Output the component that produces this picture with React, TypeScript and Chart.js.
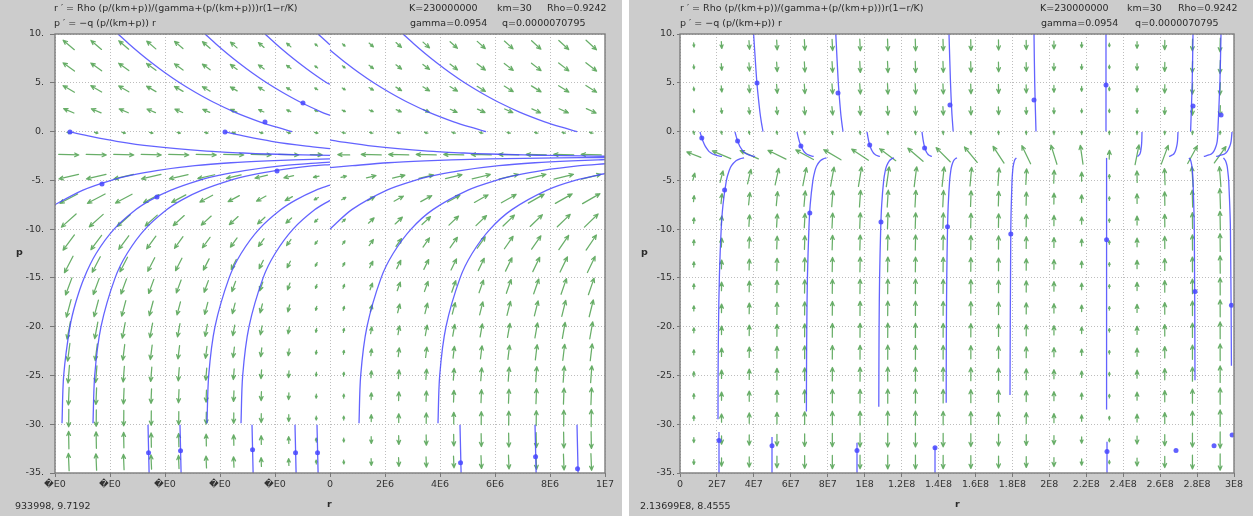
import React, { useEffect, useRef } from "react";
import { Chart, registerables } from "chart.js";

Chart.register(...registerables);

// ---- model parameters (as printed in the chart header) ----
const K = 230000000;
const KM = 30;
const RHO = 0.9242;
const GAMMA = 0.0954;
const Q = 0.0000070795;

// ---- axes ----
const yTicks = [10, 5, 0, -5, -10, -15, -20, -25, -30, -35];
const yTickLabels = ["10.", "5.", "0.", "-5.", "-10.", "-15.", "-20.", "-25.", "-30.", "-35."];

const leftXTicks = [-1e7, -8e6, -6e6, -4e6, -2e6, 0, 2e6, 4e6, 6e6, 8e6, 1e7];
const leftXTickLabels = ["\uFFFDE0", "\uFFFDE0", "\uFFFDE0", "\uFFFDE0", "\uFFFDE0", "0", "2E6", "4E6", "6E6", "8E6", "1E7"];

const rightXTicks = [0, 2e7, 4e7, 6e7, 8e7, 1e8, 1.2e8, 1.4e8, 1.6e8, 1.8e8, 2e8, 2.2e8, 2.4e8, 2.6e8, 2.8e8, 3e8];
const rightXTickLabels = ["0", "2E7", "4E7", "6E7", "8E7", "1E8", "1.2E8", "1.4E8", "1.6E8", "1.8E8", "2E8", "2.2E8", "2.4E8", "2.6E8", "2.8E8", "3E8"];

// ---- direction-field grid ----
const fieldP = [8.875, 6.625, 4.375, 2.125, -0.125, -2.375, -4.625, -6.875, -9.125, -11.375, -13.625, -15.875, -18.125, -20.375, -22.625, -24.875, -27.125, -29.375, -31.625, -33.875];
const leftFieldR = [-9.5e6, -8.5e6, -7.5e6, -6.5e6, -5.5e6, -4.5e6, -3.5e6, -2.5e6, -1.5e6, -0.5e6, 0.5e6, 1.5e6, 2.5e6, 3.5e6, 4.5e6, 5.5e6, 6.5e6, 7.5e6, 8.5e6, 9.5e6];
const rightFieldR = [7.5e6, 2.25e7, 3.75e7, 5.25e7, 6.75e7, 8.25e7, 9.75e7, 1.125e8, 1.275e8, 1.425e8, 1.575e8, 1.725e8, 1.875e8, 2.025e8, 2.175e8, 2.325e8, 2.475e8, 2.625e8, 2.775e8, 2.925e8];

type Pt = [number, number];

// ---- left panel solution curves [r, p] ----
const leftCurves: Pt[][] = [
  [[-7.709e6, 10], [-7.32e6, 9], [-6.906e6, 8], [-6.462e6, 7], [-5.985e6, 6], [-5.465e6, 5], [-4.884e6, 4], [-4.233e6, 3], [-3.473e6, 2], [-2.556e6, 1], [-2.011e6, 0.5], [-1.378e6, 0]],
  [[-4.545e6, 10], [-4.156e6, 9], [-3.742e6, 8], [-3.298e6, 7], [-2.822e6, 6], [-2.302e6, 5], [-1.72e6, 4], [-1.069e6, 3], [-0.309e6, 2], [0, 1.66]],
  [[-2.364e6, 10], [-1.975e6, 9], [-1.56e6, 8], [-1.116e6, 7], [-0.64e6, 6], [-0.12e6, 5], [0, 4.85]],
  [[-0.436e6, 10], [-0.047e6, 9], [0, 8.9]],
  [[-9.455e6, -0.04], [-8.702e6, -0.5], [-7.76e6, -1], [-6.491e6, -1.5], [-4.484e6, -2], [-3.171e6, -2.2], [-2.251e6, -2.3], [-0.982e6, -2.4], [0, -2.445]],
  [[-3.818e6, -0.04], [-3.065e6, -0.5], [-2.124e6, -1], [-0.855e6, -1.5], [0, -1.75]],
  [[-1.026e7, -8], [-1e7, -7.5], [-8.982e6, -6], [-7.96e6, -5], [-7.251e6, -4.5], [-6.309e6, -4], [-4.909e6, -3.5], [-3.6e6, -3.2], [-2.262e6, -3], [-1.302e6, -2.9], [0, -2.805]],
  [[-9.745e6, -29.9], [-9.684e6, -25], [-9.455e6, -20], [-9.244e6, -17.5], [-8.942e6, -15], [-8.505e6, -12.5], [-7.851e6, -10], [-7.058e6, -8], [-6.509e6, -7], [-5.782e6, -6], [-4.76e6, -5], [-4.051e6, -4.5], [-3.109e6, -4], [-1.709e6, -3.5], [-0.4e6, -3.2], [0, -3.13]],
  [[-8.618e6, -29.9], [-8.556e6, -25], [-8.327e6, -20], [-7.815e6, -15], [-7.378e6, -12.5], [-6.724e6, -10], [-5.931e6, -8], [-5.382e6, -7], [-4.655e6, -6], [-3.633e6, -5], [-2.924e6, -4.5], [-1.982e6, -4], [-0.582e6, -3.5], [0, -3.38]],
  [[-4.473e6, -29.9], [-4.411e6, -25], [-4.182e6, -20], [-3.669e6, -15], [-3.233e6, -12.5], [-2.578e6, -10], [-1.785e6, -8], [-1.236e6, -7], [-0.509e6, -6], [0, -5.5]],
  [[-3.236e6, -29.9], [-3.175e6, -25], [-2.945e6, -20], [-2.433e6, -15], [-1.996e6, -12.5], [-1.342e6, -10], [-0.549e6, -8], [0, -7.05]],
  [[1.055e6, -29.9], [1.116e6, -25], [1.345e6, -20], [1.858e6, -15], [2.295e6, -12.5], [2.949e6, -10], [3.742e6, -8], [5.018e6, -6], [6.04e6, -5], [6.749e6, -4.5], [7.691e6, -4], [9.091e6, -3.5], [1e7, -3.3]],
  [[3.927e6, -29.9], [3.989e6, -25], [4.218e6, -20], [4.731e6, -15], [5.167e6, -12.5], [5.822e6, -10], [6.615e6, -8], [7.891e6, -6], [8.913e6, -5], [1e7, -4.3]],
  [[0, 8.36], [0.593e6, 7], [1.069e6, 6], [1.589e6, 5], [2.171e6, 4], [2.822e6, 3], [3.582e6, 2], [4.498e6, 1], [5.044e6, 0.5], [5.676e6, 0]],
  [[2.655e6, 10], [3.044e6, 9], [3.458e6, 8], [3.902e6, 7], [4.378e6, 6], [4.898e6, 5], [5.48e6, 4], [6.131e6, 3], [6.891e6, 2], [7.807e6, 1], [8.353e6, 0.5], [8.985e6, 0]],
  [[0, -0.86], [0.287e6, -1], [1.556e6, -1.5], [3.563e6, -2], [4.876e6, -2.2], [5.796e6, -2.3], [7.065e6, -2.4], [7.945e6, -2.45], [9.149e6, -2.5], [1e7, -2.53]],
  [[0, -3.7], [0.807e6, -3.5], [2.116e6, -3.2], [3.454e6, -3], [4.414e6, -2.9], [5.8e6, -2.8], [8.284e6, -2.7], [1e7, -2.66]],
  [[0, -10], [0.793e6, -8], [2.069e6, -6], [3.091e6, -5], [3.8e6, -4.5], [4.742e6, -4], [6.142e6, -3.5], [7.451e6, -3.2], [8.789e6, -3], [9.749e6, -2.9], [1e7, -2.88]],
  [[-6.618e6, -30.05], [-6.578e6, -35]],
  [[-5.455e6, -30.05], [-5.415e6, -35]],
  [[-2.836e6, -30.05], [-2.796e6, -35]],
  [[-1.273e6, -30.05], [-1.233e6, -35]],
  [[-0.473e6, -30.05], [-0.433e6, -35]],
  [[4.727e6, -30.05], [4.767e6, -35]],
  [[7.455e6, -30.05], [7.495e6, -35]],
  [[8.982e6, -30.05], [9.022e6, -35]]
];

const leftDots: Pt[] = [
  [-9.455e6, -0.04], [-3.818e6, -0.04], [-2.364e6, 0.98], [-0.982e6, 2.93],
  [-8.291e6, -5.37], [-6.291e6, -6.7], [-1.927e6, -4.04],
  [-6.598e6, -32.93], [-5.435e6, -32.73], [-2.816e6, -32.62], [-1.253e6, -32.93], [-0.453e6, -32.93],
  [4.747e6, -33.95], [7.475e6, -33.34], [9.002e6, -34.57]
];

// ---- right panel solution curves [r, p] ----
const rightCurves: Pt[][] = [
  [[3.986e7, 10], [4.164e7, 5], [4.327e7, 2], [4.403e7, 1], [4.495e7, 0]],
  [[8.437e7, 10], [8.572e7, 5], [8.697e7, 2], [8.756e7, 1], [8.827e7, 0]],
  [[1.4567e8, 10], [1.4648e8, 5], [1.4719e8, 2], [1.4794e8, 0]],
  [[1.917e8, 10], [1.9208e8, 5], [1.9278e8, 0]],
  [[2.3068e8, 10], [2.3068e8, 0]],
  [[2.778e8, 10], [2.7736e8, 5], [2.765e8, 0]],
  [[2.9296e8, 10], [2.9237e8, 5], [2.9123e8, 0]],
  [[1.083e7, -0.04], [1.154e7, -0.5], [1.245e7, -1], [1.365e7, -1.5], [1.554e7, -2], [1.684e7, -2.2], [1.771e7, -2.3], [1.89e7, -2.4], [2.09e7, -2.5], [2.274e7, -2.55]],
  [[2.978e7, -0.04], [3.043e7, -0.5], [3.125e7, -1], [3.238e7, -1.5], [3.412e7, -2], [3.525e7, -2.2], [3.606e7, -2.3], [3.715e7, -2.4], [3.899e7, -2.5], [4.067e7, -2.55]],
  [[6.336e7, -0.04], [6.39e7, -0.5], [6.46e7, -1], [6.552e7, -1.5], [6.699e7, -2], [6.791e7, -2.2], [6.856e7, -2.3], [6.948e7, -2.4], [7.099e7, -2.5], [7.24e7, -2.55]],
  [[1.0126e8, -0.04], [1.017e8, -0.5], [1.0221e8, -1], [1.0293e8, -1.5], [1.0405e8, -2], [1.0478e8, -2.2], [1.0529e8, -2.3], [1.0601e8, -2.4], [1.0717e8, -2.5], [1.0825e8, -2.55]],
  [[1.3105e8, -0.04], [1.3137e8, -0.5], [1.3178e8, -1], [1.3233e8, -1.5], [1.3319e8, -2], [1.3375e8, -2.2], [1.3415e8, -2.3], [1.3469e8, -2.4], [1.3559e8, -2.5], [1.3641e8, -2.55]],
  [[2.5018e8, -0.04], [2.5005e8, -1], [2.4986e8, -1.5], [2.4949e8, -2], [2.4902e8, -2.3], [2.4859e8, -2.4], [2.4809e8, -2.5], [2.4767e8, -2.55]],
  [[2.6967e8, -0.04], [2.694e8, -1], [2.6899e8, -1.5], [2.6828e8, -2], [2.6738e8, -2.3], [2.6655e8, -2.4], [2.6562e8, -2.5], [2.6483e8, -2.55]],
  [[2.9134e8, -0.04], [2.909e8, -1], [2.9025e8, -1.5], [2.8912e8, -2], [2.877e8, -2.3], [2.8641e8, -2.4], [2.8489e8, -2.5], [2.8365e8, -2.55]],
  [[2.9892e8, -0.04], [2.9843e8, -1], [2.9771e8, -1.5], [2.9644e8, -2], [2.9484e8, -2.3], [2.934e8, -2.4], [2.9172e8, -2.5], [2.9032e8, -2.55]],
  [[2.058e7, -29.5], [2.063e7, -25], [2.085e7, -20], [2.131e7, -15], [2.231e7, -10], [2.329e7, -7.5], [2.513e7, -5], [2.664e7, -4], [2.789e7, -3.5], [3.033e7, -3], [3.244e7, -2.8], [3.471e7, -2.7]],
  [[6.845e7, -28.7], [6.85e7, -25], [6.866e7, -20], [6.899e7, -15], [6.98e7, -10], [7.05e7, -7.5], [7.197e7, -5], [7.31e7, -4], [7.407e7, -3.5], [7.597e7, -3], [7.76e7, -2.8], [7.933e7, -2.7]],
  [[1.0765e8, -28.2], [1.077e8, -25], [1.0781e8, -20], [1.0808e8, -15], [1.0868e8, -10], [1.0922e8, -7.5], [1.103e8, -5], [1.1117e8, -4], [1.1193e8, -3.5], [1.1334e8, -3], [1.1458e8, -2.8], [1.1588e8, -2.7]],
  [[1.4415e8, -27.8], [1.4417e8, -25], [1.4426e8, -20], [1.4445e8, -15], [1.4486e8, -10], [1.4525e8, -7.5], [1.4602e8, -5], [1.4664e8, -4], [1.4716e8, -3.5], [1.4815e8, -3], [1.4902e8, -2.8], [1.4995e8, -2.7]],
  [[1.787e8, -27], [1.7913e8, -10], [1.798e8, -5], [1.8016e8, -4], [1.8048e8, -3.5], [1.8108e8, -3], [1.8162e8, -2.8], [1.8216e8, -2.7]],
  [[2.31e8, -28.5], [2.31e8, -2.7]],
  [[2.7888e8, -25.5], [2.785e8, -10], [2.778e8, -5], [2.7747e8, -4], [2.7715e8, -3.5], [2.7661e8, -3], [2.7612e8, -2.8], [2.7558e8, -2.7]],
  [[2.9861e8, -24], [2.9807e8, -10], [2.9712e8, -5], [2.966e8, -4], [2.9622e8, -3.5], [2.9541e8, -3], [2.9471e8, -2.8], [2.9428e8, -2.7]],
  [[2.112e7, -30.8], [2.112e7, -35]],
  [[4.982e7, -31.3], [4.982e7, -35]],
  [[9.585e7, -31.9], [9.585e7, -35]],
  [[1.3809e8, -32.3], [1.3809e8, -35]],
  [[2.3123e8, -31.8], [2.3123e8, -35]]
];

const rightDots: Pt[] = [
  [4.17e7, 4.98], [8.556e7, 3.95], [1.462e8, 2.73], [1.917e8, 3.24], [2.307e8, 4.77], [2.778e8, 2.62], [2.93e8, 1.7],
  [1.18e7, -0.66], [3.12e7, -0.96], [6.547e7, -1.48], [1.0273e8, -1.37], [1.3246e8, -1.68],
  [2.415e7, -6], [7.029e7, -8.34], [1.0884e8, -9.26], [1.4486e8, -9.77], [1.7913e8, -10.5], [2.31e8, -11.1], [2.789e8, -16.4], [2.9861e8, -17.8],
  [2.112e7, -31.67], [4.982e7, -32.2], [9.585e7, -32.7], [1.3809e8, -32.4], [2.3123e8, -32.8], [2.686e8, -32.7], [2.892e8, -32.2], [2.99e8, -31.1]
];

// ---- styling ----
const FONT = '"DejaVu Sans", "Noto Sans", sans-serif';
const FONT_SIZE = 9.5;
const CURVE_COLOR = "rgba(72,72,255,0.85)";
const DOT_COLOR = "rgba(80,80,255,0.9)";
const ARROW_COLOR = "rgba(40,140,40,0.7)";
const GRID_COLOR = "#bdbdbd";
const PANEL_GRAY = "#cccccc";

const rDot = (r: number, p: number) => {
  const s = p / (KM + p);
  return RHO * (s / (GAMMA + s)) * r * (1 - r / K);
};
const pDot = (r: number, p: number) => {
  const s = p / (KM + p);
  return -Q * s * r;
};

const dirFieldPlugin = {
  id: "dirField",
  beforeDatasetsDraw(chart: any, _args: any, opts: any) {
    const { ctx, chartArea: a, scales } = chart;
    const xs = scales.x;
    const ys = scales.y;
    const sx = (xs.getPixelForValue(xs.max) - xs.getPixelForValue(xs.min)) / (xs.max - xs.min);
    const sy = (ys.getPixelForValue(ys.max) - ys.getPixelForValue(ys.min)) / (ys.max - ys.min);
    const meta = chart.getDatasetMeta(0);
    const data = chart.data.datasets[0].data;
    ctx.save();
    ctx.beginPath();
    ctx.rect(a.left, a.top, a.right - a.left, a.bottom - a.top);
    ctx.clip();
    ctx.strokeStyle = opts.color;
    ctx.lineWidth = opts.width;
    ctx.lineCap = "round";
    ctx.lineJoin = "round";
    meta.data.forEach((el: any, i: number) => {
      const d = data[i];
      const du = rDot(d.x, d.y) * sx;
      const dv = pDot(d.x, d.y) * sy;
      const ang = Math.atan2(dv, du);
      const len = Math.max(opts.minLen, Math.min(opts.maxLen, opts.k * Math.sqrt(Math.abs(du))));
      const ux = Math.cos(ang);
      const uy = Math.sin(ang);
      const x0 = el.x - (ux * len) / 2;
      const y0 = el.y - (uy * len) / 2;
      const x1 = el.x + (ux * len) / 2;
      const y1 = el.y + (uy * len) / 2;
      const h = Math.min(opts.head, len * 0.55);
      const a1 = ang + Math.PI - 0.42;
      const a2 = ang + Math.PI + 0.42;
      ctx.beginPath();
      ctx.moveTo(x0, y0);
      ctx.lineTo(x1, y1);
      ctx.moveTo(x1 + Math.cos(a1) * h, y1 + Math.sin(a1) * h);
      ctx.lineTo(x1, y1);
      ctx.lineTo(x1 + Math.cos(a2) * h, y1 + Math.sin(a2) * h);
      ctx.stroke();
    });
    ctx.restore();
  },
};

const plotBgPlugin = {
  id: "plotBg",
  beforeDraw(chart: any) {
    const { ctx, chartArea: a } = chart;
    ctx.save();
    ctx.fillStyle = "#ffffff";
    ctx.fillRect(a.left, a.top, a.right - a.left, a.bottom - a.top);
    ctx.restore();
  },
};

const framePlugin = {
  id: "frame",
  afterDraw(chart: any) {
    const { ctx, chartArea: a } = chart;
    ctx.save();
    ctx.strokeStyle = "#7d7d7d";
    ctx.lineWidth = 1.4;
    ctx.strokeRect(a.left, a.top, a.right - a.left, a.bottom - a.top);
    ctx.restore();
  },
};

type PanelProps = {
  width: number;
  yAxisWidth: number;
  padRight: number;
  yLabelPad: number;
  yTickLen: number;
  xMin: number;
  xMax: number;
  xTicks: number[];
  xLabels: string[];
  fieldR: number[];
  curves: Pt[][];
  dots: Pt[];
  arrowK: number;
};

function PhasePanel(props: PanelProps) {
  const ref = useRef<HTMLCanvasElement | null>(null);
  useEffect(() => {
    if (!ref.current) return;
    const field = fieldP.flatMap((p) => props.fieldR.map((r) => ({ x: r, y: p })));
    const datasets: any[] = [
      { type: "scatter", data: field, pointRadius: 0, pointHoverRadius: 0, borderWidth: 0 },
    ];
    props.curves.forEach((c) => {
      datasets.push({
        type: "line",
        data: c.map(([x, y]) => ({ x, y })),
        borderColor: CURVE_COLOR,
        borderWidth: 1.3,
        pointRadius: 0,
        tension: 0.3,
        fill: false,
      });
    });
    datasets.push({
      type: "scatter",
      data: props.dots.map(([x, y]) => ({ x, y })),
      pointRadius: 2.5,
      backgroundColor: DOT_COLOR,
      borderWidth: 0,
    });
    const tickFont = { family: FONT, size: FONT_SIZE };
    const chart = new Chart(ref.current, {
      type: "scatter",
      data: { datasets },
      options: {
        animation: false,
        responsive: false,
        maintainAspectRatio: false,
        events: [],
        layout: { padding: { left: 0, right: props.padRight, top: 34, bottom: 0 } },
        plugins: {
          legend: { display: false },
          tooltip: { enabled: false },
          dirField: { color: ARROW_COLOR, width: 1.25, k: props.arrowK, minLen: 3.5, maxLen: 20, head: 4.5 },
        } as any,
        scales: {
          x: {
            type: "linear",
            min: props.xMin,
            max: props.xMax,
            afterBuildTicks: (s: any) => {
              s.ticks = props.xTicks.map((v) => ({ value: v }));
            },
            afterFit: (s: any) => {
              s.height = 43;
            },
            ticks: {
              autoSkip: false,
              maxRotation: 0,
              minRotation: 0,
              padding: 2,
              color: "#333",
              font: tickFont,
              callback: (v: any) => props.xLabels[props.xTicks.indexOf(Number(v))] ?? "",
            },
            grid: { color: GRID_COLOR, lineWidth: 1, drawTicks: true, tickLength: 4, tickColor: "#777" },
            border: { display: false, dash: [1, 2] },
          },
          y: {
            type: "linear",
            min: -35,
            max: 10,
            afterBuildTicks: (s: any) => {
              s.ticks = yTicks.map((v) => ({ value: v }));
            },
            afterFit: (s: any) => {
              s.width = props.yAxisWidth;
            },
            ticks: {
              autoSkip: false,
              padding: props.yLabelPad,
              color: "#333",
              font: tickFont,
              callback: (v: any) => yTickLabels[yTicks.indexOf(Number(v))] ?? "",
            },
            grid: { color: GRID_COLOR, lineWidth: 1, drawTicks: true, tickLength: props.yTickLen, tickColor: "#777" },
            border: { display: false, dash: [1, 2] },
          },
        },
      } as any,
      plugins: [plotBgPlugin, dirFieldPlugin, framePlugin],
    });
    return () => chart.destroy();
  }, []);
  return (
    <canvas
      ref={ref}
      width={props.width}
      height={516}
      style={{ position: "absolute", left: 0, top: 0, width: props.width, height: 516, display: "block" }}
    />
  );
}

function Txt(props: { x: number; y: number; text: string; bold?: boolean }) {
  return (
    <div
      style={{
        position: "absolute",
        left: props.x,
        top: props.y - 6,
        height: 12,
        lineHeight: "12px",
        fontFamily: FONT,
        fontSize: FONT_SIZE,
        fontWeight: props.bold ? "bold" : "normal",
        color: "#2a2a2a",
        whiteSpace: "nowrap",
      }}
    >
      {props.text}
    </div>
  );
}

const titleLine1 = "r \u2032 = Rho (p/(km+p))/(gamma+(p/(km+p)))r(1\u2212r/K)";
const titleLine2 = "p \u2032 = \u2212q (p/(km+p)) r";

export default function App() {
  useEffect(() => {
    document.body.style.margin = "0";
  }, []);
  return (
    <div style={{ position: "fixed", left: 0, top: 0, width: 1253, height: 516, background: "#ffffff", overflow: "hidden" }}>
      <div style={{ position: "absolute", left: 0, top: 0, width: 622, height: 516, background: PANEL_GRAY }}>
        <PhasePanel
          width={622}
          yAxisWidth={55}
          padRight={17}
          yLabelPad={6}
          yTickLen={5}
          xMin={-1e7}
          xMax={1e7}
          xTicks={leftXTicks}
          xLabels={leftXTickLabels}
          fieldR={leftFieldR}
          curves={leftCurves}
          dots={leftDots}
          arrowK={1.1}
        />
        <Txt x={54} y={8} text={titleLine1} />
        <Txt x={54} y={23} text={titleLine2} />
        <Txt x={409} y={8} text="K=230000000" />
        <Txt x={497} y={8} text="km=30" />
        <Txt x={547} y={8} text="Rho=0.9242" />
        <Txt x={410} y={23} text="gamma=0.0954" />
        <Txt x={502} y={23} text="q=0.0000070795" />
        <Txt x={16} y={252} text="p" bold />
        <Txt x={327} y={504} text="r" bold />
        <Txt x={15} y={506} text="933998, 9.7192" />
      </div>
      <div style={{ position: "absolute", left: 629, top: 0, width: 624, height: 516, background: PANEL_GRAY }}>
        <PhasePanel
          width={624}
          yAxisWidth={51}
          padRight={19}
          yLabelPad={2}
          yTickLen={3}
          xMin={0}
          xMax={3e8}
          xTicks={rightXTicks}
          xLabels={rightXTickLabels}
          fieldR={rightFieldR}
          curves={rightCurves}
          dots={rightDots}
          arrowK={1.4}
        />
        <Txt x={51} y={8} text={titleLine1} />
        <Txt x={51} y={23} text={titleLine2} />
        <Txt x={411} y={8} text="K=230000000" />
        <Txt x={498} y={8} text="km=30" />
        <Txt x={549} y={8} text="Rho=0.9242" />
        <Txt x={412} y={23} text="gamma=0.0954" />
        <Txt x={506} y={23} text="q=0.0000070795" />
        <Txt x={12} y={252} text="p" bold />
        <Txt x={326} y={504} text="r" bold />
        <Txt x={11} y={506} text="2.13699E8, 8.4555" />
      </div>
    </div>
  );
}
